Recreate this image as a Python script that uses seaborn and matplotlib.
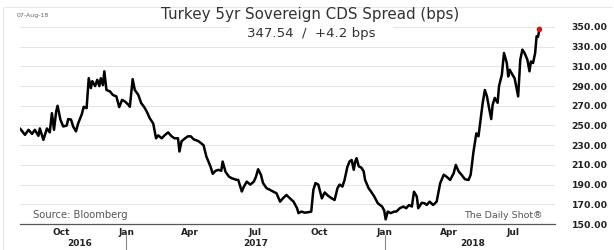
import matplotlib
matplotlib.use("Agg")
import matplotlib.pyplot as plt
import matplotlib.dates as mdates
import matplotlib.transforms as mtransforms
from matplotlib.lines import Line2D
from matplotlib.patches import Rectangle
import seaborn as sns
import pandas as pd

dates = [
    "2016-08-04", "2016-08-11", "2016-08-16", "2016-08-21", "2016-08-25", "2016-08-30",
    "2016-09-01", "2016-09-06", "2016-09-11", "2016-09-15", "2016-09-18", "2016-09-21",
    "2016-09-24", "2016-09-26", "2016-09-30", "2016-10-04", "2016-10-09", "2016-10-11",
    "2016-10-15", "2016-10-18", "2016-10-22", "2016-10-25", "2016-10-30", "2016-11-02",
    "2016-11-06", "2016-11-09", "2016-11-12", "2016-11-14", "2016-11-18", "2016-11-21",
    "2016-11-24", "2016-11-26", "2016-11-29", "2016-12-01", "2016-12-04", "2016-12-09",
    "2016-12-13", "2016-12-18", "2016-12-22", "2016-12-26", "2016-12-30", "2017-01-04",
    "2017-01-06", "2017-01-10", "2017-01-13", "2017-01-18", "2017-01-22", "2017-01-26",
    "2017-01-30", "2017-02-03", "2017-02-08", "2017-02-12", "2017-02-15", "2017-02-20",
    "2017-02-24", "2017-03-01", "2017-03-06", "2017-03-10", "2017-03-15", "2017-03-17",
    "2017-03-20", "2017-03-25", "2017-03-29", "2017-04-02", "2017-04-06", "2017-04-13",
    "2017-04-20", "2017-04-24", "2017-04-30", "2017-05-03", "2017-05-07", "2017-05-11",
    "2017-05-15", "2017-05-17", "2017-05-21", "2017-05-26", "2017-05-30", "2017-06-05",
    "2017-06-08", "2017-06-13", "2017-06-16", "2017-06-20", "2017-06-25", "2017-06-30",
    "2017-07-03", "2017-07-06", "2017-07-10", "2017-07-13", "2017-07-18", "2017-07-23",
    "2017-07-27", "2017-08-01", "2017-08-06", "2017-08-10", "2017-08-15", "2017-08-20",
    "2017-08-25", "2017-08-30", "2017-09-01", "2017-09-05", "2017-09-10", "2017-09-15",
    "2017-09-19", "2017-09-22", "2017-09-25", "2017-09-29", "2017-10-04", "2017-10-08",
    "2017-10-13", "2017-10-18", "2017-10-22", "2017-10-26", "2017-10-29", "2017-11-02",
    "2017-11-05", "2017-11-09", "2017-11-12", "2017-11-15", "2017-11-18", "2017-11-20",
    "2017-11-22", "2017-11-25", "2017-11-29", "2017-12-02", "2017-12-04", "2017-12-09",
    "2017-12-14", "2017-12-17", "2017-12-22", "2017-12-28", "2017-12-31", "2018-01-02",
    "2018-01-05", "2018-01-09", "2018-01-14", "2018-01-17", "2018-01-22", "2018-01-27",
    "2018-01-31", "2018-02-04", "2018-02-08", "2018-02-11", "2018-02-15", "2018-02-17",
    "2018-02-22", "2018-02-26", "2018-03-01", "2018-03-05", "2018-03-10", "2018-03-15",
    "2018-03-20", "2018-03-25", "2018-03-29", "2018-04-03", "2018-04-08", "2018-04-11",
    "2018-04-15", "2018-04-19", "2018-04-24", "2018-04-29", "2018-05-02", "2018-05-06",
    "2018-05-10", "2018-05-13", "2018-05-16", "2018-05-19", "2018-05-22", "2018-05-25",
    "2018-05-28", "2018-05-31", "2018-06-02", "2018-06-05", "2018-06-09", "2018-06-11",
    "2018-06-15", "2018-06-18", "2018-06-22", "2018-06-24", "2018-06-26", "2018-06-30",
    "2018-07-03", "2018-07-08", "2018-07-11", "2018-07-14", "2018-07-17", "2018-07-21",
    "2018-07-24", "2018-07-26", "2018-07-29", "2018-08-01", "2018-08-03", "2018-08-05",
    "2018-08-07",
]

cds_bps = [
    247.0, 240.5, 245.6, 241.5, 245.6, 239.5,
    247.0, 235.4, 247.0, 243.0, 262.5, 245.6,
    264.0, 270.0, 256.0, 249.0, 250.0, 256.5,
    256.0, 249.0, 244.0, 252.0, 261.0, 269.0,
    267.6, 298.0, 288.0, 295.0, 290.0, 296.4,
    290.0, 298.0, 291.0, 305.0, 286.0, 284.6,
    281.0, 279.5, 268.6, 276.0, 274.4, 271.0,
    269.0, 297.0, 286.0, 281.0, 272.7, 269.0,
    264.0, 257.5, 252.0, 237.0, 240.0, 237.0,
    240.0, 243.0, 239.0, 237.0, 237.0, 223.6,
    234.0, 237.0, 239.0, 239.0, 236.0, 234.0,
    230.0, 218.5, 208.0, 201.0, 204.0, 205.0,
    204.0, 213.4, 203.0, 198.0, 196.4, 195.0,
    194.7, 183.0, 188.0, 193.0, 190.0, 193.0,
    198.0, 205.6, 200.0, 191.5, 186.3, 184.6,
    183.0, 181.2, 172.7, 176.0, 179.5, 176.0,
    172.7, 166.0, 161.0, 162.6, 161.5, 162.0,
    162.6, 184.6, 191.5, 190.0, 176.0, 182.0,
    178.5, 176.0, 174.4, 186.3, 190.0, 188.0,
    194.7, 208.0, 213.4, 215.0, 205.0, 213.4,
    216.8, 208.6, 207.0, 203.4, 194.7, 186.3,
    181.2, 177.8, 171.0, 167.7, 163.6, 154.7,
    162.6, 161.0, 162.6, 162.6, 166.0, 167.7,
    166.0, 169.3, 167.7, 182.8, 177.8, 166.0,
    171.6, 171.0, 169.3, 172.7, 169.3, 172.7,
    191.5, 200.0, 198.0, 194.7, 201.5, 210.0,
    203.4, 200.0, 195.4, 194.7, 200.0, 223.6,
    242.0, 239.0, 256.0, 273.0, 286.0, 279.5,
    267.6, 256.5, 271.0, 278.0, 273.0, 290.0,
    301.5, 323.6, 313.4, 299.8, 306.6, 301.5,
    298.0, 279.5, 316.8, 327.0, 323.6, 316.8,
    305.0, 315.0, 313.4, 323.6, 340.5, 340.0,
    347.54,
]

y_ticks = [150, 170, 190, 210, 230, 250, 270, 290, 310, 330, 350]
title = "Turkey 5yr Sovereign CDS Spread (bps)"
subtitle = "347.54  /  +4.2 bps"
date_stamp = "07-Aug-18"
source = "Source: Bloomberg"
credit = "The Daily Shot\u00ae"
years = [("2016", "2016-10-27"), ("2017", "2017-07-02"), ("2018", "2018-05-05")]
year_breaks = ["2017-01-01", "2018-01-01"]

sns.set_theme(style="white")
plt.rcParams['font.family'] = ['DejaVu Sans']

df = pd.DataFrame({"date": pd.to_datetime(dates), "cds": cds_bps})

W, H = 614, 250
fig = plt.figure(figsize=(W / 100, H / 100), dpi=100)
fig.patch.set_facecolor("white")
ax = fig.add_axes([20 / W, 26 / H, 535 / W, 218.7 / H])

ax.set_ylim(150, 372)
ax.set_xlim(pd.Timestamp("2016-08-04"), pd.Timestamp("2018-08-29"))
ax.set_yticks(y_ticks)
ax.grid(axis="y", color="#e4e4e4", linewidth=0.7)
ax.grid(axis="x", visible=False)
ax.set_axisbelow(True)

sns.lineplot(data=df, x="date", y="cds", ax=ax, color="black", linewidth=1.8, zorder=3)
last = df.iloc[[-1]]
sns.scatterplot(data=last, x="date", y="cds", ax=ax, color="#ff0000", s=16,
                edgecolor="none", zorder=4)

ax.set_xlabel("")
ax.set_ylabel("")
ax.yaxis.tick_right()
ax.set_yticklabels([f"{v:.2f}" for v in y_ticks])
ax.tick_params(axis="y", length=0, pad=12, labelsize=6.7, labelcolor="#222")
for lbl in ax.get_yticklabels():
    lbl.set_fontweight("bold")

ax.xaxis.set_major_locator(mdates.MonthLocator(bymonth=[1, 4, 7, 10]))
ax.xaxis.set_major_formatter(mdates.DateFormatter("%b"))
ax.tick_params(axis="x", length=2, width=0.8, color="#777", pad=1,
               labelsize=6.5, labelcolor="#222")
for lbl in ax.get_xticklabels():
    lbl.set_fontweight("bold")

for s in ["top", "left", "right"]:
    ax.spines[s].set_visible(False)
ax.spines["bottom"].set_color("#555")
ax.spines["bottom"].set_linewidth(0.9)

trans = mtransforms.blended_transform_factory(ax.transData, ax.transAxes)
for yr, pos in years:
    ax.text(pd.Timestamp(pos), -0.087, yr, transform=trans, ha="center", va="center",
            fontsize=6.5, fontweight="bold", color="#222")
for b in year_breaks:
    bx = mdates.date2num(pd.Timestamp(b))
    ax.add_line(Line2D([bx, bx], [-0.05, -0.125], transform=trans, color="#888",
                       linewidth=0.8, clip_on=False))

# header / frame lines
fig.add_artist(Line2D([5 / W, 612 / W], [1 - 7 / H, 1 - 7 / H], color="#e6e6e6", linewidth=0.7))
fig.add_artist(Line2D([3 / W, 3 / W], [0, 1 - 7 / H], color="#f2dede", linewidth=0.8))
fig.add_artist(Rectangle((230 / W, 1 - 41 / H), 163 / W, 16 / H, facecolor="white",
                         edgecolor="none", transform=fig.transFigure, zorder=2))

fig.text(310 / W, 1 - 15 / H, title, ha="center", va="center", fontsize=10.9, color="#333", zorder=5)
fig.text(311 / W, 1 - 33 / H, subtitle, ha="center", va="center", fontsize=9.6, color="#333", zorder=5)
fig.text(17 / W, 1 - 15 / H, date_stamp, ha="left", va="center", fontsize=4.5, color="#666")
fig.text(33 / W, 1 - 215 / H, source, ha="left", va="center", fontsize=7.2, color="#555")
fig.text(543 / W, 1 - 215 / H, credit, ha="right", va="center", fontsize=6.8, color="#555")

fig.savefig("out.png", dpi=100, facecolor="white")
